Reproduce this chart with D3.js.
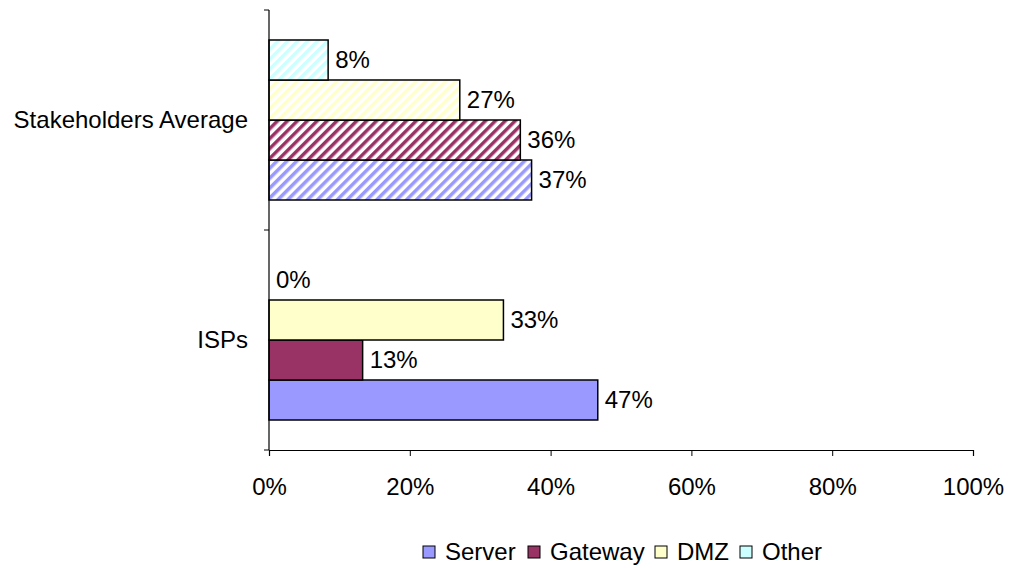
<!DOCTYPE html>
<html><head><meta charset="utf-8">
<script src="https://cdn.jsdelivr.net/npm/d3@7"></script>
<style>body{margin:0;background:#fff}svg{display:block}text{font-family:"Liberation Sans",Arial,sans-serif;fill:#000}</style>
</head><body>
<script>
const categories = ["Stakeholders Average", "ISPs"];
const seriesNames = ["Server", "Gateway", "DMZ", "Other"];
const colors = ["#9999FF", "#993366", "#FFFFCC", "#CCFFFF"];
const server = [0.373, 0.467];
const gateway = [0.357, 0.133];
const dmz = [0.271, 0.333];
const other = [0.084, 0.0];
const hatched = [true, false];
const xTicks = [0, 0.2, 0.4, 0.6, 0.8, 1.0];

const FS = 24;
const values = [server, gateway, dmz, other];
const W = 1009, H = 568;
const svg = d3.select("body").append("svg").attr("width", W).attr("height", H);
const defs = svg.append("defs");
colors.forEach((c, i) => {
  const p = defs.append("pattern").attr("id", "hatch" + i).attr("patternUnits", "userSpaceOnUse")
    .attr("width", 7).attr("height", 7).attr("patternTransform", "rotate(45)");
  p.append("rect").attr("width", 7).attr("height", 7).attr("fill", "#fff");
  p.append("rect").attr("width", 3.5).attr("height", 7).attr("fill", c);
});

const x = d3.scaleLinear().domain([0, 1]).range([269, 973]);
const y = d3.scaleBand().domain(categories).range([10, 450]);
const inner = d3.scaleBand().domain(seriesNames.slice().reverse()).range([30, 190]);

// bars
categories.forEach((cat, ci) => {
  seriesNames.forEach((s, si) => {
    const v = values[si][ci];
    const y0 = y(cat) + inner(s);
    if (v > 0) {
      svg.append("rect").attr("x", x(0)).attr("y", y0).attr("width", x(v) - x(0)).attr("height", inner.bandwidth())
        .attr("fill", hatched[ci] ? `url(#hatch${si})` : colors[si]).attr("stroke", "#000").attr("stroke-width", 1.5);
    }
    svg.append("text").attr("x", x(v) + 7).attr("y", y0 + inner.bandwidth() / 2).attr("dy", "0.35em")
      .attr("font-size", FS).text(d3.format(".0%")(v));
  });
});

// x axis
const xa = svg.append("g").attr("transform", "translate(0,450)")
  .call(d3.axisBottom(x).tickValues(xTicks).tickFormat(d3.format(".0%")).tickSize(6).tickPadding(22));
xa.select(".domain").attr("stroke", "#000").attr("stroke-width", 1.2);
xa.selectAll("text").attr("font-size", FS).attr("font-family", "Liberation Sans, Arial, sans-serif");

// y axis
const ya = svg.append("g").attr("transform", "translate(269,0)");
ya.append("line").attr("x1", 0).attr("x2", 0).attr("y1", 10).attr("y2", 450).attr("stroke", "#000").attr("stroke-width", 1.2);
[10, 230, 450].forEach(t => ya.append("line").attr("x1", -5).attr("x2", 0).attr("y1", t).attr("y2", t).attr("stroke", "#000"));
categories.forEach(cat => {
  svg.append("text").attr("x", 248).attr("y", y(cat) + y.bandwidth() / 2).attr("dy", "0.35em")
    .attr("text-anchor", "end").attr("font-size", FS).text(cat);
});

// legend
const legX = [423, 528, 655, 740];
seriesNames.forEach((s, i) => {
  const g = svg.append("g").attr("transform", `translate(${legX[i]},552)`);
  g.append("rect").attr("x", 0).attr("y", -6).attr("width", 12).attr("height", 12).attr("fill", colors[i]).attr("stroke", "#000");
  g.append("text").attr("x", 22).attr("y", 0).attr("dy", "0.35em").attr("font-size", FS).text(s);
});
</script>
</body></html>
